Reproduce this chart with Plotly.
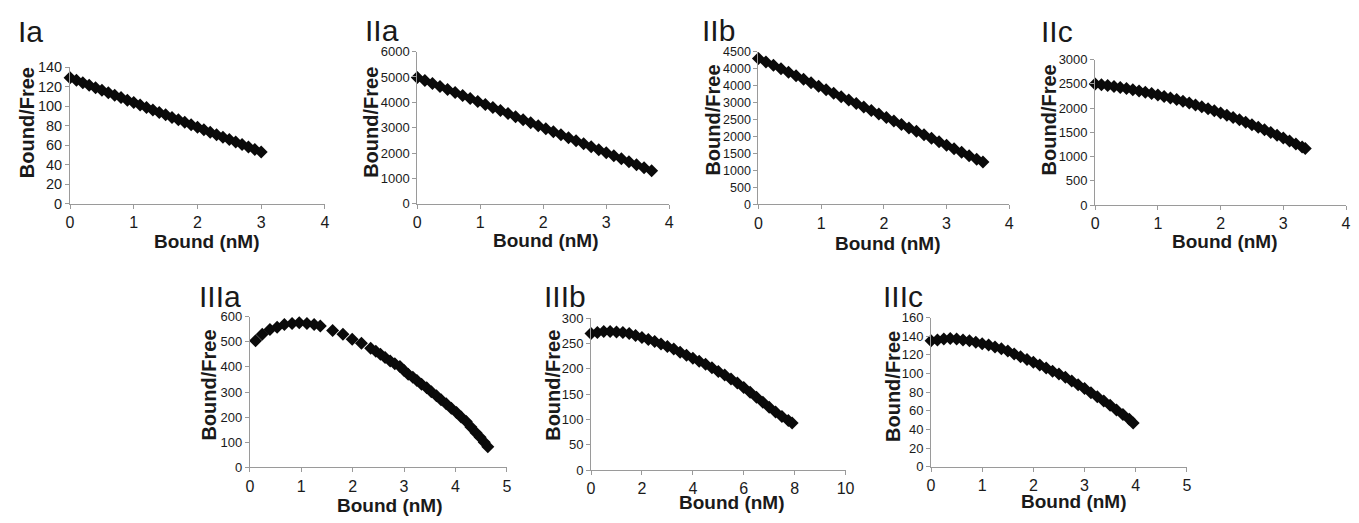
import plotly.graph_objects as go

W, H = 1359, 523

# ---------------- data ----------------
ia_x = [0.0, 0.1, 0.2, 0.3, 0.4, 0.5, 0.6, 0.7, 0.8, 0.9, 1.0, 1.1, 1.2, 1.3, 1.4, 1.5,
        1.6, 1.7, 1.8, 1.9, 2.0, 2.1, 2.2, 2.3, 2.4, 2.5, 2.6, 2.7, 2.8, 2.9, 3.0]
ia_y = [129, 126.5, 123.9, 121.4, 118.9, 116.4, 113.8, 111.3, 108.8, 106.2, 103.7, 101.2,
        98.6, 96.1, 93.6, 91.1, 88.5, 86.0, 83.5, 80.9, 78.4, 75.9, 73.3, 70.8, 68.3, 65.8,
        63.2, 60.7, 58.2, 55.6, 53.1]

iia_x = [0.0, 0.12, 0.24, 0.36, 0.48, 0.60, 0.72, 0.84, 0.96, 1.08, 1.20, 1.32, 1.44, 1.56,
         1.68, 1.80, 1.92, 2.04, 2.16, 2.28, 2.40, 2.52, 2.64, 2.76, 2.88, 3.00, 3.12, 3.24,
         3.36, 3.48, 3.60, 3.72]
iia_y = [4980, 4861, 4743, 4624, 4505, 4387, 4268, 4149, 4031, 3912, 3793, 3675, 3556, 3437,
         3318, 3200, 3081, 2962, 2844, 2725, 2606, 2488, 2369, 2250, 2132, 2013, 1894, 1776,
         1657, 1538, 1420, 1301]

iib_x = [0.0, 0.12, 0.24, 0.36, 0.48, 0.60, 0.72, 0.84, 0.96, 1.08, 1.20, 1.32, 1.44, 1.56,
         1.68, 1.80, 1.92, 2.04, 2.16, 2.28, 2.40, 2.52, 2.64, 2.76, 2.88, 3.00, 3.12, 3.24,
         3.36, 3.48, 3.58]
iib_y = [4300, 4198, 4096, 3993, 3891, 3789, 3687, 3584, 3482, 3380, 3278, 3175, 3073, 2971,
         2869, 2766, 2664, 2562, 2460, 2357, 2255, 2153, 2051, 1948, 1846, 1744, 1642, 1540,
         1437, 1335, 1250]

iic_x = [0.0, 0.1, 0.2, 0.3, 0.4, 0.5, 0.6, 0.7, 0.8, 0.9, 1.0, 1.1, 1.2, 1.3, 1.4, 1.5,
         1.6, 1.7, 1.8, 1.9, 2.0, 2.1, 2.2, 2.3, 2.4, 2.5, 2.6, 2.7, 2.8, 2.9, 3.0, 3.1,
         3.2, 3.3, 3.35]
iic_y = [2500, 2484, 2466, 2447, 2427, 2404, 2381, 2356, 2330, 2302, 2273, 2242, 2210, 2176,
         2141, 2104, 2066, 2027, 1986, 1944, 1900, 1855, 1808, 1760, 1710, 1659, 1607, 1553,
         1497, 1441, 1382, 1322, 1261, 1199, 1167]

iiia_x = [0.11, 0.24, 0.39, 0.53, 0.67, 0.82, 0.96, 1.11, 1.25, 1.37, 1.61, 1.81, 1.99, 2.17,
          2.35, 2.45, 2.54, 2.63, 2.73, 2.82, 2.92, 3.00, 3.08, 3.17, 3.25, 3.34, 3.44, 3.53,
          3.63, 3.72, 3.82, 3.92, 4.02, 4.11, 4.21, 4.30, 4.40, 4.48, 4.56, 4.63]
iiia_y = [504, 530, 549, 558, 568, 572, 575, 572, 568, 562, 545, 530, 510, 494,
          474, 462, 450, 437, 423, 412, 401, 386, 371, 359, 346, 331, 317, 301,
          285, 269, 253, 236, 219, 201, 183, 161, 138, 120, 100, 82]

iiib_x = [0.0, 0.25, 0.5, 0.75, 1.0, 1.25, 1.5, 1.75, 2.0, 2.25, 2.5, 2.75, 3.0, 3.25, 3.5,
          3.75, 4.0, 4.25, 4.5, 4.75, 5.0, 5.25, 5.5, 5.75, 6.0, 6.25, 6.5, 6.75, 7.0, 7.25,
          7.5, 7.75, 7.9]
iiib_y = [270, 272, 274, 274, 273, 272, 270, 266, 262, 258, 254, 249, 244, 239, 233,
          227, 221, 215, 209, 202, 195, 188, 180, 172, 163, 154, 144, 134, 124, 115,
          106, 98, 93]

iiic_x = [0.0, 0.125, 0.25, 0.375, 0.5, 0.625, 0.75, 0.875, 1.0, 1.125, 1.25, 1.375, 1.5,
          1.625, 1.75, 1.875, 2.0, 2.125, 2.25, 2.375, 2.5, 2.625, 2.75, 2.875, 3.0, 3.125,
          3.25, 3.375, 3.5, 3.625, 3.75, 3.875, 3.95]
iiic_y = [135, 136, 137, 137.5, 137, 136, 135, 133.5, 132, 130.5, 128.5, 126.5, 124,
          121, 118, 115, 112, 109, 106, 102.5, 99.5, 96, 92, 88, 84, 79.5,
          75, 70.5, 66, 61, 56, 51, 47]

panel_names = ["Ia", "IIa", "IIb", "IIc", "IIIa", "IIIb", "IIIc"]
x_ranges = [[0, 4], [0, 4], [0, 4], [0, 4], [0, 5], [0, 10], [0, 5]]
x_dticks = [1, 1, 1, 1, 1, 2, 1]
y_ranges = [[0, 140], [0, 6000], [0, 4500], [0, 3000], [0, 600], [0, 300], [0, 160]]
y_dticks = [20, 1000, 500, 500, 100, 50, 20]
iib_tickvals = [0, 500, 1000, 1500, 2000, 2500, 3000, 3500, 4000, 4500]
iib_ticktext = ["0", "500", "1000", "1500", "2000", "2500", "3000", "4000", "4000", "4500"]
x_title = "Bound (nM)"
y_title = "Bound/Free"

series = [(ia_x, ia_y), (iia_x, iia_y), (iib_x, iib_y), (iic_x, iic_y),
          (iiia_x, iiia_y), (iiib_x, iiib_y), (iiic_x, iiic_y)]

# ---------------- layout geometry (pixels) ----------------
# plot area: (left, right, top, bottom)
boxes = [(66.7, 324, 61, 202), (417.3, 671.7, 45, 202), (761.7, 1015, 45, 202.7),
         (1101.7, 1355, 53.3, 203.3), (248.3, 507.7, 318.3, 474), (592.7, 849.7, 320, 476.7),
         (936, 1194.3, 319.3, 473.3)]
ytick_sizes = [14.5, 13, 12.5, 13, 13, 13, 13]
label_pos = [(12, 24), (362.7, 23), (702.7, 23), (1045, 24), (195, 298), (543.3, 298), (885, 298)]
ytitle_pos = [(24, 118), (371, 118), (716, 116), (1056, 115), (207.5, 389), (554, 389), (897.5, 390)]
xtitle_pos = [(205, 241), (547.5, 240), (893, 243), (1233, 241), (390, 513), (735, 510), (1080, 509)]

FONT = "Liberation Sans, Arial, sans-serif"
AXC = "#9a9a9a"
TXT = "#1a1a1a"

fig = go.Figure()
annotations = []
for i, (xs, ys) in enumerate(series):
    n = "" if i == 0 else str(i + 1)
    fig.add_trace(go.Scatter(
        x=xs, y=ys, mode="markers", xaxis="x" + n, yaxis="y" + n,
        marker=dict(symbol="diamond", size=10, color="#0a0a0a", line=dict(width=0)),
        showlegend=False, hoverinfo="skip", cliponaxis=False))
    l, r, t, b = boxes[i]
    xax = dict(domain=[l / W, r / W], range=x_ranges[i], dtick=x_dticks[i], tick0=0,
               showgrid=False, zeroline=False, showline=True, linecolor=AXC, linewidth=1,
               ticks="outside", ticklen=4, tickcolor=AXC,
               tickfont=dict(family=FONT, size=16, color=TXT),
               anchor="y" + n, fixedrange=True)
    yax = dict(domain=[1 - b / H, 1 - t / H], range=y_ranges[i],
               showgrid=False, zeroline=False, showline=True, linecolor=AXC, linewidth=1,
               ticks="outside", ticklen=4, tickcolor=AXC,
               tickfont=dict(family=FONT, size=ytick_sizes[i], color=TXT),
               anchor="x" + n, fixedrange=True)
    if i == 2:
        yax.update(tickmode="array", tickvals=iib_tickvals, ticktext=iib_ticktext)
    else:
        yax.update(dtick=y_dticks[i], tick0=0)
    fig.update_layout(**{"xaxis" + n: xax, "yaxis" + n: yax})

    lx, ly = label_pos[i]
    annotations.append(dict(text=panel_names[i], x=lx / W, y=1 - ly / H, xref="paper",
                            yref="paper", xanchor="left", yanchor="middle", showarrow=False,
                            font=dict(family=FONT, size=30, color=TXT)))
    tx, ty = ytitle_pos[i]
    annotations.append(dict(text="<b>" + y_title + "</b>", x=tx / W, y=1 - ty / H,
                            xref="paper", yref="paper", xanchor="center", yanchor="middle",
                            textangle=-90, showarrow=False,
                            font=dict(family=FONT, size=20, color=TXT)))
    tx, ty = xtitle_pos[i]
    annotations.append(dict(text="<b>" + x_title + "</b>", x=tx / W, y=1 - ty / H,
                            xref="paper", yref="paper", xanchor="center", yanchor="middle",
                            showarrow=False, font=dict(family=FONT, size=19, color=TXT)))

fig.update_layout(width=W, height=H, margin=dict(l=0, r=0, t=0, b=0),
                  paper_bgcolor="white", plot_bgcolor="white",
                  annotations=annotations)
fig.write_html("out.html", config={"displayModeBar": False},
               post_script="document.body.style.margin='0';document.body.style.overflow='hidden';")
